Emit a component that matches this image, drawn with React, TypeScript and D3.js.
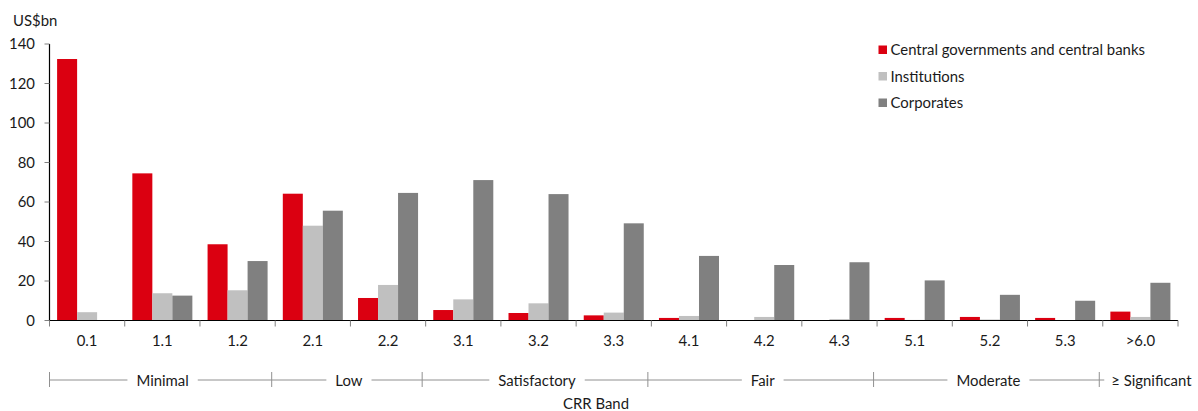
import React, { useEffect, useRef } from "react";
import * as d3 from "d3";

const categories = ["0.1", "1.1", "1.2", "2.1", "2.2", "3.1", "3.2", "3.3", "4.1", "4.2", "4.3", "5.1", "5.2", "5.3", ">6.0"];
const seriesNames = ["Central governments and central banks", "Institutions", "Corporates"];
const centralGov = [132.4, 74.5, 38.6, 64.2, 11.4, 5.3, 3.8, 2.6, 1.3, 0, 0.2, 1.3, 1.8, 1.3, 4.5];
const institutions = [4.2, 13.8, 15.3, 48.0, 18.0, 10.7, 8.7, 4.0, 2.3, 1.8, 0.7, 0.3, 0.5, 0, 1.8];
const corporates = [0, 12.6, 30.1, 55.6, 64.6, 71.1, 64.0, 49.2, 32.7, 28.1, 29.5, 20.3, 13.0, 10.0, 19.1];
const yTicks = [0, 20, 40, 60, 80, 100, 120, 140];
const bandLabels = ["Minimal", "Low", "Satisfactory", "Fair", "Moderate", "\u2265 Significant"];
const bandSizes = [3, 2, 3, 3, 3, 1];
const colors = ["#DB0011", "#C0C0C0", "#808080"];

const FONT = "Lato, 'Open Sans', sans-serif";
const FS = 14.9;

export default function App() {
  const ref = useRef<SVGSVGElement | null>(null);

  useEffect(() => {
    const svg = d3.select(ref.current);
    svg.selectAll("*").remove();

    const left = 49.5, right = 1178, top = 44, bottom = 320.5;
    const x = d3.scaleBand<string>().domain(categories).range([left, right]).padding(0);
    const xs = d3.scaleBand<string>().domain(seriesNames).range([0, x.bandwidth()]).paddingInner(0).paddingOuter(0.38);
    const y = d3.scaleLinear().domain([0, 140]).range([bottom, top]);
    const data = [centralGov, institutions, corporates];

    const g = svg.append("g").attr("font-family", FONT).attr("fill", "#1a1a1a");

    // bars
    data.forEach((vals, si) => {
      g.append("g").selectAll("rect").data(vals).join("rect")
        .attr("x", (_, i) => x(categories[i])! + xs(seriesNames[si])!)
        .attr("width", xs.bandwidth())
        .attr("y", (v) => y(v))
        .attr("height", (v) => y(0) - y(v))
        .attr("fill", colors[si]);
    });

    // y axis
    g.append("line").attr("x1", left).attr("x2", left).attr("y1", top).attr("y2", bottom).attr("stroke", "#000").attr("stroke-width", 1.2);
    yTicks.forEach((t) => {
      g.append("line").attr("x1", left - 5).attr("x2", left).attr("y1", y(t)).attr("y2", y(t)).attr("stroke", "#808080");
      g.append("text").attr("x", 35).attr("y", y(t) + 5).attr("text-anchor", "end").attr("font-size", FS).text(String(t));
    });
    g.append("text").attr("x", 13).attr("y", 26).attr("font-size", FS).text("US$bn");

    // x axis
    g.append("line").attr("x1", left).attr("x2", right).attr("y1", bottom).attr("y2", bottom).attr("stroke", "#000").attr("stroke-width", 1.2);
    const bounds = categories.map((c) => x(c)!).concat([right]);
    bounds.forEach((b) => {
      g.append("line").attr("x1", b).attr("x2", b).attr("y1", bottom).attr("y2", bottom + 6).attr("stroke", "#808080");
    });
    categories.forEach((c) => {
      g.append("text").attr("x", x(c)! + x.bandwidth() / 2).attr("y", 346).attr("text-anchor", "middle").attr("font-size", FS).text(c);
    });

    // bands
    const lineY = 380;
    let idx = 0;
    const bandStarts: number[] = [];
    bandSizes.forEach((s) => {
      bandStarts.push(idx);
      idx += s;
    });
    const bx = (i: number) => (i === 0 ? left : bounds[i] - 3.5);
    bandLabels.forEach((lab, bi) => {
      const s = bx(bandStarts[bi]);
      const last = bi === bandLabels.length - 1;
      g.append("line").attr("x1", s).attr("x2", s).attr("y1", lineY - 8).attr("y2", lineY + 7).attr("stroke", "#909090");
      if (last) {
        g.append("line").attr("x1", s).attr("x2", s + 5).attr("y1", lineY).attr("y2", lineY).attr("stroke", "#909090");
        g.append("text").attr("x", s + 12).attr("y", lineY + 6).attr("font-size", FS).text(lab);
        return;
      }
      const e = bx(bandStarts[bi] + bandSizes[bi]);
      const cx = (s + e) / 2 + 2;
      const t = g.append("text").attr("x", cx).attr("y", lineY + 6).attr("text-anchor", "middle").attr("font-size", FS).text(lab);
      const w = (t.node() as SVGTextElement).getComputedTextLength();
      g.append("line").attr("x1", s).attr("x2", cx - w / 2 - 9).attr("y1", lineY).attr("y2", lineY).attr("stroke", "#909090");
      g.append("line").attr("x1", cx + w / 2 + 9).attr("x2", e).attr("y1", lineY).attr("y2", lineY).attr("stroke", "#909090");
    });
    g.append("text").attr("x", 596).attr("y", 409).attr("text-anchor", "middle").attr("font-size", FS).text("CRR Band");

    // legend
    seriesNames.forEach((n, i) => {
      const cy = 50 + i * 26.5;
      g.append("rect").attr("x", 878.5).attr("y", cy - 4.5).attr("width", 8.5).attr("height", 8.5).attr("fill", colors[i]);
      g.append("text").attr("x", 890.5).attr("y", cy + 5).attr("font-size", FS).text(n);
    });
  }, []);

  return (
    <svg ref={ref} width={1198} height={411} style={{ position: "absolute", left: 0, top: 0, background: "#fff" }} />
  );
}
